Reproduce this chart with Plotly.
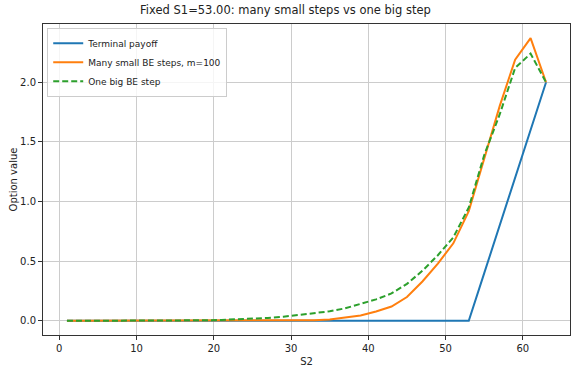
import plotly.graph_objects as go

s2 = list(range(1, 64, 2))
terminal = [0.0]*27 + [0.4, 0.8, 1.2, 1.6, 2.0]
many_small = [0.0, 0.0, 0.0, 0.0, 0.0, 0.0, 0.0, 0.0, 0.0, 0.0,
              0.0, 0.0, 0.0, 0.0, 0.0, 0.003, 0.006, 0.012, 0.027, 0.045,
              0.078, 0.12, 0.20, 0.33, 0.48, 0.65, 0.92, 1.36, 1.80, 2.19,
              2.37, 2.0]
one_big = [0.0, 0.0, 0.0, 0.0, 0.001, 0.001, 0.002, 0.003, 0.004, 0.005,
           0.008, 0.012, 0.018, 0.025, 0.035, 0.048, 0.062, 0.08, 0.105, 0.14,
           0.18, 0.23, 0.31, 0.42, 0.55, 0.70, 0.95, 1.39, 1.73, 2.12,
           2.24, 2.0]

title = "Fixed S1=53.00: many small steps vs one big step"
x_ticks = [0, 10, 20, 30, 40, 50, 60]
y_ticks = [0.0, 0.5, 1.0, 1.5, 2.0]

fig = go.Figure()
fig.add_trace(go.Scatter(x=s2, y=terminal, mode="lines", name="Terminal payoff",
                         line=dict(color="#1f77b4", width=2)))
fig.add_trace(go.Scatter(x=s2, y=many_small, mode="lines", name="Many small BE steps, m=100",
                         line=dict(color="#ff7f0e", width=2)))
fig.add_trace(go.Scatter(x=s2, y=one_big, mode="lines", name="One big BE step",
                         line=dict(color="#2ca02c", width=2, dash="6px,3px")))

axis_common = dict(showline=True, linecolor="#333333", linewidth=1, mirror=True,
                   ticks="outside", ticklen=4, tickcolor="#333333",
                   showgrid=True, gridcolor="#cccccc", gridwidth=1, zeroline=False,
                   tickfont=dict(size=10, color="#222222"))

fig.update_layout(
    width=571, height=367,
    margin=dict(l=43, r=1, t=24, b=32),
    paper_bgcolor="white", plot_bgcolor="white",
    font=dict(family="DejaVu Sans", size=10, color="#222222"),
    title=dict(text=title, x=0.5, xanchor="center", y=0.985, yanchor="top",
               font=dict(size=11.5)),
    xaxis=dict(range=[-2.1, 66.1], tickvals=x_ticks, ticktext=[str(v) for v in x_ticks],
               title=dict(text="S2", standoff=4, font=dict(size=10)), **axis_common),
    yaxis=dict(range=[-0.1185, 2.4885], tickvals=y_ticks, ticktext=[f"{v:.1f}" for v in y_ticks],
               title=dict(text="Option value", standoff=0, font=dict(size=10)), **axis_common),
    legend=dict(x=0.008, y=0.988, xanchor="left", yanchor="top",
                bgcolor="rgba(255,255,255,0.8)", bordercolor="#cccccc", borderwidth=1,
                font=dict(size=9), tracegroupgap=0, itemwidth=30),
    showlegend=True,
)

fig.write_html("out.html")
